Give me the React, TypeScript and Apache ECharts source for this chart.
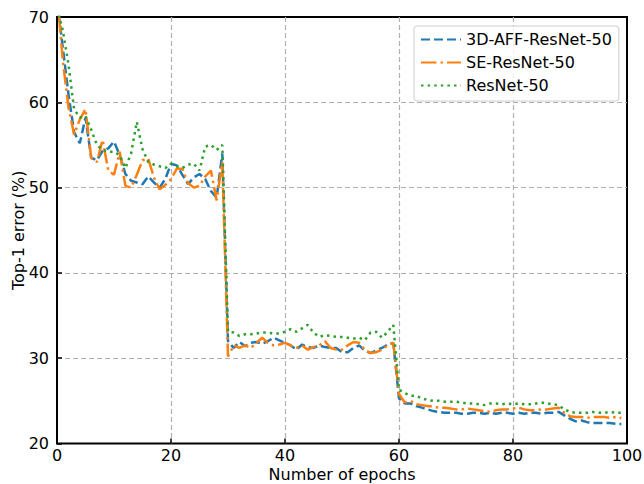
import React, { useEffect, useRef } from "react";
import * as echarts from "echarts";

const epochs: number[] = Array.from({ length: 100 }, (_, i) => i);

const affResNet50: number[] = [
  72, 66.5, 61, 56.5, 55.2, 58.2, 53.5, 53.2, 54.3, 54.6,
  55.4, 53.8, 51.6, 50.8, 50.6, 50.4, 51.3, 50.6, 50.0, 51.0,
  52.8, 52.6, 51.5, 50.4, 51.2, 51.6, 51.0, 49.6, 48.8, 54.0,
  32.0, 31.2, 31.9, 31.4, 31.8, 31.9, 31.7, 32.0, 32.4, 32.1,
  31.8, 31.5, 31.0, 31.6, 31.3, 31.2, 31.5, 31.3, 31.2, 31.2,
  30.7, 30.7, 31.2, 31.5, 30.9, 30.6, 30.9, 31.2, 31.6, 31.8,
  25.3, 24.7, 24.7, 24.4, 24.2, 24.0, 23.8, 23.7, 23.6, 23.6,
  23.6, 23.5, 23.5, 23.6, 23.6, 23.5, 23.6, 23.5, 23.6, 23.6,
  23.5, 23.6, 23.5, 23.6, 23.6, 23.5, 23.6, 23.6, 23.7, 23.3,
  22.9, 22.6, 22.7, 22.5, 22.4, 22.4, 22.4, 22.4, 22.3, 22.3,
];

const seResNet50: number[] = [
  73, 65, 59.5, 56.2, 58.0, 59.2, 53.5, 53.0, 55.6, 52.0,
  51.5, 54.2, 50.2, 50.0, 51.5, 53.2, 53.4, 51.2, 49.8, 50.3,
  51.0, 52.2, 52.2, 50.5, 50.0, 50.2, 51.3, 52.0, 48.5, 53.0,
  30.2, 31.5, 31.2, 31.5, 31.2, 31.8, 32.4, 31.8, 31.5, 31.6,
  31.8, 31.5, 31.2, 31.5, 31.0, 31.3, 31.5, 32.0, 31.2, 31.0,
  31.0, 31.5, 31.9, 31.8, 31.0, 30.6, 30.7, 31.0, 31.5, 31.8,
  25.8, 24.8, 25.0, 24.6, 24.5, 24.4, 24.3, 24.2, 24.2, 24.1,
  24.0, 24.0, 24.1, 24.0, 23.9, 23.8, 23.7, 23.9, 24.0, 24.0,
  24.1, 24.2, 24.0, 23.9, 23.9, 24.0, 24.0, 24.1, 24.2, 23.6,
  23.2, 23.1, 23.1, 23.0, 23.1, 23.1, 23.1, 23.0, 23.1, 23.0,
];

const resNet50: number[] = [
  71, 68.5, 64.5, 59.2, 58.2, 58.4, 56.8, 55.0, 54.4, 54.2,
  54.2, 53.8, 52.3, 54.0, 57.7, 54.5, 53.0, 52.7, 52.5, 52.3,
  52.8, 52.5, 52.3, 52.7, 52.8, 52.0, 54.8, 55.0, 54.4, 55.0,
  33.1, 33.0, 32.6, 32.8, 32.8, 32.9, 33.0, 33.0, 32.9, 32.9,
  33.1, 33.4, 33.1, 33.5, 33.9, 33.0, 32.5, 32.7, 32.6, 32.5,
  32.5, 32.4, 32.3, 32.4, 32.1, 33.0, 33.1, 32.4, 33.1, 33.9,
  26.3, 25.9, 25.6, 25.6, 25.3, 25.1, 25.0, 25.0, 24.9, 24.9,
  24.9, 24.8, 24.7, 24.7, 24.6, 24.5, 24.7, 24.7, 24.6, 24.7,
  24.6, 24.7, 24.6, 24.6, 24.7, 24.8, 24.7, 24.6, 24.5, 24.0,
  23.7, 23.6, 23.6, 23.6, 23.7, 23.6, 23.6, 23.7, 23.6, 23.6,
];

const seriesNames: string[] = ["3D-AFF-ResNet-50", "SE-ResNet-50", "ResNet-50"];
const seriesColors: string[] = ["#1f77b4", "#ff7f0e", "#2ca02c"];
const seriesDashes: number[][] = [
  [9, 4],
  [15.5, 4, 2.5, 4],
  [2.5, 4.1],
];

const FONT = "DejaVu Sans";

export default function App() {
  const ref = useRef<HTMLDivElement>(null);
  useEffect(() => {
    if (!ref.current) return;
    const chart = echarts.init(ref.current, undefined, { renderer: "svg" });
    const allData = [affResNet50, seResNet50, resNet50];
    chart.setOption({
      animation: false,
      backgroundColor: "#ffffff",
      textStyle: { fontFamily: FONT },
      grid: {
        left: 57,
        right: 17,
        top: 17,
        bottom: 40.5,
        show: true,
        borderColor: "#000",
        borderWidth: 2,
        backgroundColor: "transparent",
        containLabel: false,
        outerBoundsMode: "none",
      },
      legend: {
        orient: "vertical",
        left: 414,
        top: 26,
        padding: [5, 7, 7, 6],
        itemGap: 6,
        itemWidth: 40,
        itemHeight: 17,
        backgroundColor: "rgba(255,255,255,0.8)",
        borderColor: "#cccccc",
        borderWidth: 1,
        borderRadius: 3,
        itemStyle: { opacity: 0, color: "transparent", borderWidth: 0 },
        textStyle: { fontFamily: FONT, fontSize: 16, color: "#000", lineHeight: 17 },
        data: seriesNames,
      },
      xAxis: {
        type: "value",
        min: 0,
        max: 100,
        interval: 20,
        name: "Number of epochs",
        nameLocation: "middle",
        nameGap: 23,
        nameMoveOverlap: false,
        nameTextStyle: { fontFamily: FONT, fontSize: 16, color: "#000" },
        axisLine: { show: false },
        axisTick: { show: true, inside: true, length: 5, lineStyle: { color: "#000", width: 1.5 } },
        axisLabel: { fontFamily: FONT, fontSize: 16, color: "#000", margin: 4 },
        splitLine: {
          show: true,
          showMinLine: false,
          showMaxLine: false,
          lineStyle: { color: "#b0b0b0", width: 1.2, type: [5, 3] },
        },
      },
      yAxis: {
        type: "value",
        min: 20,
        max: 70,
        interval: 10,
        name: "Top-1 error (%)",
        nameLocation: "middle",
        nameGap: 31,
        nameRotate: 90,
        nameMoveOverlap: false,
        nameTextStyle: { fontFamily: FONT, fontSize: 16, color: "#000" },
        axisLine: { show: false },
        axisTick: { show: true, inside: true, length: 5, lineStyle: { color: "#000", width: 1.5 } },
        axisLabel: { fontFamily: FONT, fontSize: 16, color: "#000", margin: 8 },
        splitLine: {
          show: true,
          showMinLine: false,
          showMaxLine: false,
          lineStyle: { color: "#b0b0b0", width: 1.2, type: [5, 3] },
        },
      },
      series: seriesNames.map((name, k) => ({
        name,
        type: "line",
        showSymbol: false,
        symbol: "none",
        clip: true,
        color: seriesColors[k],
        lineStyle: { color: seriesColors[k], width: 2.5, type: seriesDashes[k], cap: "butt" },
        data: epochs.map((e, i) => [e, allData[k][i]]),
      })),
    });
    return () => chart.dispose();
  }, []);
  return (
    <div
      ref={ref}
      style={{ position: "fixed", left: 0, top: 0, width: 644, height: 484 }}
    />
  );
}
